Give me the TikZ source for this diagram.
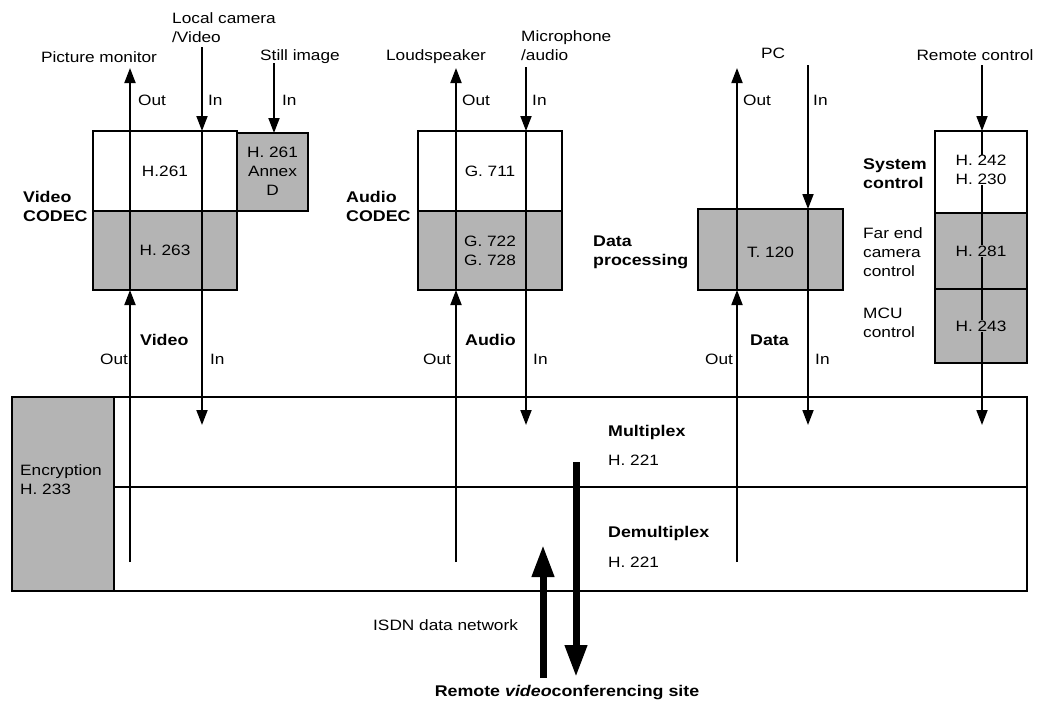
\documentclass[tikz,border=0pt]{standalone}
\usepackage{fontspec}
\setmainfont{Liberation Sans}[FakeStretch=1.15]
\usetikzlibrary{arrows.meta}
\definecolor{boxgray}{RGB}{180,180,180}
\begin{document}
\begin{tikzpicture}[x=1pt,y=-1pt,
  bx/.style={draw=black, line width=2.6pt, outer sep=0pt, inner sep=0pt, anchor=north west},
  wbx/.style={bx, fill=white},
  gbx/.style={bx, fill=boxgray},
  ln/.style={line width=1.8pt},
  arr/.style={ln, -{Triangle[width=11pt,length=15pt]}},
  bigarr/.style={line width=7pt, -{Triangle[width=21pt,length=32pt]}},
  lbl/.style={font=\fontsize{15}{19}\selectfont, inner sep=0pt, anchor=west, align=left},
  blbl/.style={lbl, font=\bfseries\fontsize{15.5}{19}\selectfont},
  intxt/.style={font=\fontsize{15}{19}\selectfont, inner sep=1.5pt, align=center}
]
\useasboundingbox[fill=white] (0,0) rectangle (1037,705);

% boxes
\node[wbx, minimum width=144, minimum height=80] (vtop) at (93,131) {};
\node[gbx, minimum width=144, minimum height=79] (vbot) at (93,211) {};
\node[gbx, minimum width=71, minimum height=78] (annex) at (237,133) {};
\node[wbx, minimum width=144, minimum height=80] (atop) at (418,131) {};
\node[gbx, minimum width=144, minimum height=79] (abot) at (418,211) {};
\node[gbx, minimum width=145, minimum height=81] (data) at (698,209) {};
\node[wbx, minimum width=92, minimum height=82] (c1) at (935,131) {};
\node[gbx, minimum width=92, minimum height=76] (c2) at (935,213) {};
\node[gbx, minimum width=92, minimum height=74] (c3) at (935,289) {};
\node[gbx, minimum width=102, minimum height=194] (enc) at (12,397) {};
\node[wbx, minimum width=913, minimum height=90] (mux) at (114,397) {};
\node[wbx, minimum width=913, minimum height=104] (demux) at (114,487) {};

% coordinates
\coordinate (vob) at (130,562); \coordinate (vot) at (130,68);
\coordinate (vit) at (202,47);  \coordinate (vie) at (202,425);
\coordinate (sit) at (274,63);
\coordinate (aob) at (456,562); \coordinate (aot) at (456,68);
\coordinate (ait) at (526,67);  \coordinate (aie) at (526,425);
\coordinate (dob) at (737,562); \coordinate (dot) at (737,68);
\coordinate (dit) at (808,65);  \coordinate (die) at (808,425);
\coordinate (cit) at (982,65);  \coordinate (cie) at (982,425);
\coordinate (uab) at (543,678); \coordinate (uat) at (543,545);
\coordinate (dat) at (576,462); \coordinate (dab) at (576,677);

% video
\draw[arr] (vob) -- (vbot.south -| vob);
\draw[arr] (vbot.south -| vob) -- (vot);
\draw[arr] (vit) -- (vtop.north -| vit);
\draw[arr] (vtop.north -| vit) -- (vie);
\draw[arr] (sit) -- (annex.north -| sit);
% audio
\draw[arr] (aob) -- (abot.south -| aob);
\draw[arr] (abot.south -| aob) -- (aot);
\draw[arr] (ait) -- (atop.north -| ait);
\draw[arr] (atop.north -| ait) -- (aie);
% data
\draw[arr] (dob) -- (data.south -| dob);
\draw[arr] (data.south -| dob) -- (dot);
\draw[arr] (dit) -- (data.north -| dit);
\draw[arr] (data.north -| dit) -- (die);
% control
\draw[arr] (cit) -- (c1.north -| cit);
\draw[arr] (c1.north -| cit) -- (cie);
% network
\draw[bigarr] (uab) -- (uat);
\draw[bigarr] (dat) -- (dab);

% box texts
\node[intxt, fill=white] (tvtop) at (vtop.center) {H.261};
\node[intxt, fill=boxgray] (tvbot) at (vbot.center) {H. 263};
\node[intxt, fill=boxgray] (tannex) at ([yshift=1]annex.center) {H. 261\\Annex\\D};
\node[intxt, fill=white] (tatop) at (atop.center) {G. 711};
\node[intxt, fill=boxgray] (tabot) at (abot.center) {G. 722\\G. 728};
\node[intxt, fill=boxgray] (tdata) at ([yshift=-3]data.center) {T. 120};
\node[intxt, fill=white, inner sep=0.5pt] (tc1) at ([yshift=2]c1.center) {H. 242\\H. 230};
\node[intxt, fill=boxgray, inner sep=0.5pt] (tc2) at (c2.center) {H. 281};
\node[intxt, fill=boxgray, inner sep=0.5pt] (tc3) at (c3.center) {H. 243};
\node[lbl] (tenc) at (20,480) {Encryption\\H. 233};

% labels
\node[lbl] (lcam) at (172,28) {Local camera\\/Video};
\node[lbl, anchor=center] (pmon) at (99,57) {Picture monitor};
\node[lbl, anchor=center] (still) at (300,57) {Still image};
\node[lbl] (vout1) at (138,100) {Out};
\node[lbl] (vin1) at (208,100) {In};
\node[lbl] (sin) at (282,100) {In};
\node[lbl, anchor=center] (lsp) at (436,57) {Loudspeaker};
\node[lbl] (mic) at (521,46) {Microphone\\/audio};
\node[lbl] (aout1) at (462,100) {Out};
\node[lbl] (ain1) at (532,100) {In};
\node[lbl, anchor=center] (pc) at (773,53) {PC};
\node[lbl] (dout1) at (743,100) {Out};
\node[lbl] (din1) at (813,100) {In};
\node[lbl, anchor=center] (rc) at (975,55) {Remote control};
\node[blbl] (vcodec) at (23,206) {Video\\CODEC};
\node[blbl] (acodec) at (346,206) {Audio\\CODEC};
\node[blbl] (dproc) at (593,252) {Data\\processing};
\node[blbl] (sysc) at (863,174) {System\\control};
\node[lbl] (fecc) at (863,252) {Far end\\camera\\control};
\node[lbl] (mcuc) at (863,323) {MCU\\control};

\node[blbl] (vlab) at (140,340) {Video};
\node[lbl] (vout2) at (100,359) {Out};
\node[lbl] (vin2) at (210,359) {In};
\node[blbl] (alab) at (465,340) {Audio};
\node[lbl] (aout2) at (423,359) {Out};
\node[lbl] (ain2) at (533,359) {In};
\node[blbl] (dlab) at (750,340) {Data};
\node[lbl] (dout2) at (705,359) {Out};
\node[lbl] (din2) at (815,359) {In};

\node[blbl] (muxl) at (608,432) {Multiplex};
\node[lbl] (muxh) at (608,460) {H. 221};
\node[blbl] (dmuxl) at (608,533) {Demultiplex};
\node[lbl] (dmuxh) at (608,562) {H. 221};
\node[lbl] (isdn) at (373,625) {ISDN data network};
\node[blbl, anchor=center] (remote) at (567,693) {Remote \textit{video}conferencing site};
\end{tikzpicture}
\end{document}
